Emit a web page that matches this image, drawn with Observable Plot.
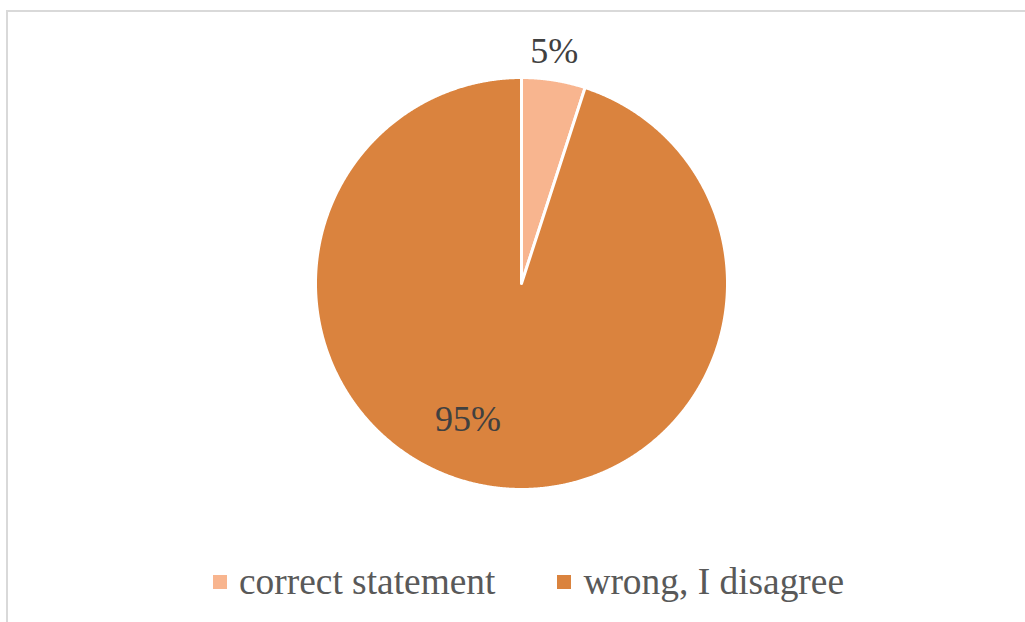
<!DOCTYPE html>
<html><head><meta charset="utf-8">
<script src="https://cdn.jsdelivr.net/npm/d3@7"></script>
<script src="https://cdn.jsdelivr.net/npm/@observablehq/plot@0.6"></script>
<style>
body{margin:0;background:#fff;}
#wrap{position:relative;width:1025px;height:622px;overflow:hidden;background:#fff;}
#frame{position:absolute;left:6px;top:10px;width:1100px;height:700px;border:2px solid #d9d9d9;box-sizing:border-box;}
#chart{position:absolute;left:0;top:0;}
#legend{position:absolute;left:213px;top:560px;}
#legend > div{margin:0 !important;font-family:"Liberation Serif","Times New Roman",serif !important;font-size:37.4px !important;color:#595959 !important;min-height:0 !important;display:flex;align-items:center;flex-wrap:nowrap;white-space:nowrap;}
#legend span{margin-right:62px !important;display:inline-flex;align-items:center;}
#legend span:last-child{margin-right:0 !important;}
#legend svg{margin-right:12px !important;}
svg text{font-family:"Liberation Serif","Times New Roman",serif;}
</style></head>
<body><div id="wrap"><div id="frame"></div><div id="chart"></div><div id="legend"></div></div>
<script>
const categories = ["correct statement", "wrong, I disagree"];
const shares = [5, 95];
const labels = ["5%", "95%"];
const colors = ["#F8B58F", "#DA833E"];

const R = 206, cx = 521, cy = 283;
const arcs = d3.pie().sort(null)(shares);
const pts = [];
arcs.forEach((a, i) => {
  pts.push({k: categories[i], x: 0, y: 0});
  const n = Math.max(2, Math.ceil((a.endAngle - a.startAngle) / 0.004));
  for (let j = 0; j <= n; j++) {
    const t = a.startAngle + (a.endAngle - a.startAngle) * j / n;
    pts.push({k: categories[i], x: Math.sin(t), y: Math.cos(t)});
  }
  pts.push({k: categories[i], x: 0, y: 0});
});
const lab = arcs.map((a, i) => {
  const m = (a.startAngle + a.endAngle) / 2;
  const f = i === 0 ? 1.14 : 0.67;
  return {t: labels[i], i, x: f * Math.sin(m), y: f * Math.cos(m)};
});

const serif = "'Liberation Serif', 'Times New Roman', serif";
const chart = Plot.plot({
  width: 1025, height: 555, margin: 0,
  style: {background: "transparent"},
  x: {domain: [-1, 1], range: [cx - R, cx + R], axis: null},
  y: {domain: [-1, 1], range: [cy + R, cy - R], axis: null},
  color: {domain: categories, range: colors},
  marks: [
    Plot.line(pts, {x: "x", y: "y", z: "k", fill: "k", stroke: "white", strokeWidth: 3}),
    Plot.text(lab.filter(d => d.i === 0), {x: "x", y: "y", text: "t", dx: -4, fontSize: 36, fontFamily: serif, fill: "#404040"}),
    Plot.text(lab.filter(d => d.i === 1), {x: "x", y: "y", text: "t", dx: -32, fontSize: 36, fontFamily: serif, fill: "#404040"})
  ]
});
document.getElementById("chart").appendChild(chart);

const legend = Plot.legend({color: {domain: categories, range: colors}, legend: "swatches", swatchSize: 14});
document.getElementById("legend").appendChild(legend);
</script>
</body></html>
